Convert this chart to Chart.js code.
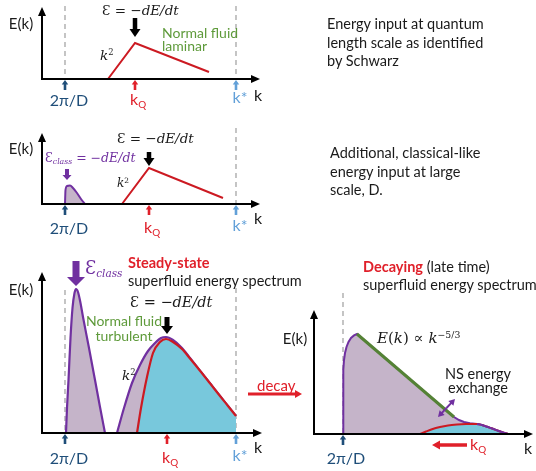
<!DOCTYPE html>
<html>
<head>
<meta charset="utf-8">
<script src="https://cdn.jsdelivr.net/npm/chart.js@4.4.0/dist/chart.umd.min.js"></script>
<style>
  body { margin: 0; background: #fff; }
  #wrap { position: relative; width: 536px; height: 471px; overflow: hidden; }
  #wrap canvas { position: absolute; left: 0; top: 0; }
  .lbl { position: absolute; white-space: nowrap; line-height: 1; font-family: Lato, "Noto Sans", sans-serif; font-size: 14px; color: #1a1a1a; }
  .m { font-family: "DejaVu Serif", serif; font-size: 13.5px; }
  .sb { font-size: 0.62em; vertical-align: -0.3em; }
  .sp { font-size: 0.62em; vertical-align: 0.55em; }
  .tick { font-size: 16px; }
  .green { color: #5e9a3a; font-size: 14px; }
  .purple { color: #7030a0; }
  .red { color: #e0202a; }
  .desc { line-height: 18.5px; font-size: 14.5px; }
</style>
</head>
<body>
<div id="wrap">
  <canvas id="c1" width="536" height="471"></canvas>
  <canvas id="c2" width="536" height="471"></canvas>
  <canvas id="c3" width="536" height="471"></canvas>
  <canvas id="c4" width="536" height="471"></canvas>
</div>
<script>
// units: k along the axis, E up from the axis
const tickNames = ["2π/D", "k<span class='sb'>Q</span>", "k*"];

// top: energy input at kQ only
const p1Ticks = [23, 93, 194];
const p1RedK = [66, 93, 167];
const p1RedE = [0, 36, 7];

// second: extra classical input at 2π/D
const p2Ticks = [23, 107, 194];
const p2RedK = [80, 107, 181];
const p2RedE = [0, 36, 6];
const p2PurpleK = [23, 23.5, 25, 28, 31, 35, 39, 43];
const p2PurpleE = [0, 14, 18, 18.5, 16, 11, 5, 0];

// steady state
const p3Ticks = [23, 125, 194];
const p3Peak1K = [24, 25, 26.5, 28.5, 30.5, 32.5, 34, 36, 38.5, 41, 47, 53, 58, 63];
const p3Peak1E = [0, 25, 53, 95, 125, 140, 144, 141, 130, 116, 85, 53, 26, 0];
const p3Peak2K = [75, 82, 90, 98, 106, 113, 119, 124, 131, 140, 148, 158, 168, 178, 186, 194];
const p3Peak2E = [0, 25, 50, 68, 82, 90, 95, 96, 93, 85, 75, 62.3, 49.7, 37, 27, 17];
const p3RedK = [95, 99, 105, 111, 118, 124, 131, 140, 148, 158, 168, 178, 186, 194];
const p3RedE = [0, 25, 56, 80, 91, 94, 91, 84, 74.5, 62.3, 49.7, 37, 27, 17];

// decaying
const p4Ticks = [29];
const p4PurpleK = [29, 29.3, 30, 31, 32.5, 34.5, 37, 40, 43, 140, 145, 150, 156, 163, 168, 173, 178, 184, 189, 194];
const p4PurpleE = [0, 64, 74, 81, 87, 92, 96, 98.6, 100, 17, 14, 12, 10.8, 10, 9, 7.2, 5.5, 3.3, 1.5, 0];
const p4RedK = [106, 112, 118, 126, 134, 143, 152, 163, 168, 173, 178, 184, 189, 194];
const p4RedE = [0, 2.5, 4.8, 7, 8.5, 9.4, 9.9, 10, 9, 7.2, 5.5, 3.3, 1.5, 0];
const p4TailK = [163, 168, 173, 178, 184, 189, 194];
const p4TailE = [10, 9, 7.2, 5.5, 3.3, 1.5, 0];
const p4SlopeK = [43, 140];
const p4SlopeE = [100, 17];

const RED = "#cc1a22", LABEL_RED = "#e0202a", PURPLE = "#7030a0", LILAC = "#c5b4c9",
      CYAN = "#78c8dc", NAVY = "#1f4e79", SKY = "#62a0d8", GREEN = "#548235", GREY = "#a6a6a6";
const tickColors = [NAVY, LABEL_RED, SKY];

const W = 536, H = 471;
const wrap = document.getElementById("wrap");

function series(ks, es) { return ks.map((k, i) => ({ x: k, y: es[i] })); }

function blockArrow(ctx, x0, y0, x1, y1, shaftW, headW, headL, color) {
  const dx = x1 - x0, dy = y1 - y0, len = Math.hypot(dx, dy);
  const ux = dx / len, uy = dy / len, nx = -uy, ny = ux;
  const bx = x1 - ux * headL, by = y1 - uy * headL;
  ctx.beginPath();
  ctx.moveTo(x0 + nx * shaftW / 2, y0 + ny * shaftW / 2);
  ctx.lineTo(bx + nx * shaftW / 2, by + ny * shaftW / 2);
  ctx.lineTo(bx + nx * headW / 2, by + ny * headW / 2);
  ctx.lineTo(x1, y1);
  ctx.lineTo(bx - nx * headW / 2, by - ny * headW / 2);
  ctx.lineTo(bx - nx * shaftW / 2, by - ny * shaftW / 2);
  ctx.lineTo(x0 - nx * shaftW / 2, y0 - ny * shaftW / 2);
  ctx.closePath();
  ctx.fillStyle = color;
  ctx.fill();
}

function panel(id, origin, datasets, deco) {
  const canvas = document.getElementById(id);
  return new Chart(canvas, {
    type: "line",
    data: { datasets },
    options: {
      responsive: false,
      animation: false,
      events: [],
      layout: { padding: 0 },
      elements: { point: { radius: 0 } },
      scales: {
        x: { type: "linear", display: false, min: -origin[0], max: W - origin[0] },
        y: { type: "linear", display: false, min: origin[1] - H, max: origin[1] }
      },
      plugins: { legend: { display: false }, tooltip: { enabled: false } }
    },
    plugins: [{
      id: "deco",
      beforeDatasetsDraw(chart) { draw(chart, deco.under); },
      afterDatasetsDraw(chart) { draw(chart, deco.over); }
    }]
  });
}

function draw(chart, fn) {
  if (!fn) return;
  const ctx = chart.ctx;
  const X = v => chart.scales.x.getPixelForValue(v);
  const Y = v => chart.scales.y.getPixelForValue(v);
  ctx.save();
  fn(ctx, X, Y);
  ctx.restore();
}

function dashed(ctx, X, Y, k, top) {
  ctx.setLineDash([5, 4]);
  ctx.strokeStyle = GREY;
  ctx.lineWidth = 1.3;
  ctx.beginPath();
  ctx.moveTo(X(k), Y(top));
  ctx.lineTo(X(k), Y(0));
  ctx.stroke();
  ctx.setLineDash([]);
}

function axes(ctx, X, Y, kLen, eLen, ticks, colors) {
  blockArrow(ctx, X(0) - 1, Y(0), X(kLen), Y(0), 2, 8, 9, "#000");
  blockArrow(ctx, X(0), Y(0) + 1, X(0), Y(eLen), 2, 8, 9, "#000");
  ticks.forEach((k, i) => blockArrow(ctx, X(k), Y(-11), X(k), Y(0) + 1, 2.6, 6.5, 4.5, colors[i]));
}

function downArrow(ctx, X, Y, k, from, to, sw, hw, hl, color) {
  blockArrow(ctx, X(k), Y(from), X(k), Y(to), sw, hw, hl, color);
}

function put(chart, k, e, html, cls, anchor, css) {
  const d = document.createElement("div");
  d.className = "lbl " + (cls || "");
  d.innerHTML = html;
  if (css) d.style.cssText = css;
  d.style.left = chart.scales.x.getPixelForValue(k) + "px";
  d.style.top = chart.scales.y.getPixelForValue(e) + "px";
  d.style.transform = anchor === "c" ? "translate(-50%,-50%)" : "translate(0,-50%)";
  wrap.appendChild(d);
  return d;
}

function tickLabels(chart, ys, xs) {
  put(chart, xs[0], ys[0], tickNames[0], "tick", "c", "color:" + NAVY);
  put(chart, xs[1], ys[0], tickNames[1], "tick", "l", "color:" + LABEL_RED);
  put(chart, xs[2], ys[1], tickNames[2], "tick", "c", "color:" + SKY);
}

const EQ = "<span class='m'>Ɛ = −<i>dE/dt</i></span>";
const K2 = "<span class='m'><i>k</i><span class='sp'>2</span></span>";

// ---- panel 1
const c1 = panel("c1", [42, 79], [
  { data: series(p1RedK, p1RedE), borderColor: RED, borderWidth: 2, tension: 0, fill: false }
], {
  under(ctx, X, Y) { dashed(ctx, X, Y, 23, 73); dashed(ctx, X, Y, 194, 73); },
  over(ctx, X, Y) {
    axes(ctx, X, Y, 218, 72, p1Ticks, tickColors);
    downArrow(ctx, X, Y, 93, 61, 42, 4.5, 11, 8, "#000");
  }
});

// ---- panel 2
const c2 = panel("c2", [42, 204], [
  { data: series(p2RedK, p2RedE), borderColor: RED, borderWidth: 2, tension: 0, fill: false, order: 0 },
  { data: series(p2PurpleK, p2PurpleE), borderColor: PURPLE, borderWidth: 2, backgroundColor: LILAC,
    fill: "origin", cubicInterpolationMode: "monotone", order: 1 }
], {
  under(ctx, X, Y) { dashed(ctx, X, Y, 194, 76); },
  over(ctx, X, Y) {
    axes(ctx, X, Y, 218, 71, p2Ticks, tickColors);
    downArrow(ctx, X, Y, 107, 52, 38, 4.5, 11, 8, "#000");
    downArrow(ctx, X, Y, 25, 35, 24, 4, 9, 5, PURPLE);
  }
});

// ---- panel 3
const c3 = panel("c3", [42, 433], [
  { data: series(p3RedK, p3RedE), borderColor: RED, borderWidth: 2.2, backgroundColor: CYAN,
    fill: "origin", cubicInterpolationMode: "monotone", order: 0 },
  { data: series(p3Peak2K, p3Peak2E), borderColor: PURPLE, borderWidth: 2.2, backgroundColor: LILAC,
    fill: "origin", cubicInterpolationMode: "monotone", order: 1 },
  { data: series(p3Peak1K, p3Peak1E), borderColor: PURPLE, borderWidth: 2.2, backgroundColor: LILAC,
    fill: "origin", cubicInterpolationMode: "monotone", order: 2 }
], {
  under(ctx, X, Y) { dashed(ctx, X, Y, 23, 143); dashed(ctx, X, Y, 194, 145); },
  over(ctx, X, Y) {
    axes(ctx, X, Y, 220, 161, p3Ticks, tickColors);
    downArrow(ctx, X, Y, 125, 116, 99, 5, 12, 8, "#000");
    downArrow(ctx, X, Y, 34, 172, 147, 7, 18, 9, PURPLE);
    blockArrow(ctx, X(206), Y(39), X(260), Y(39), 3, 8, 7, LABEL_RED);
  }
});

// ---- panel 4
const c4 = panel("c4", [314, 434], [
  { data: series(p4SlopeK, p4SlopeE), borderColor: GREEN, borderWidth: 3, tension: 0, fill: false, order: 0 },
  { data: series(p4TailK, p4TailE), borderColor: PURPLE, borderWidth: 2, fill: false,
    cubicInterpolationMode: "monotone", order: 1 },
  { data: series(p4RedK, p4RedE), borderColor: RED, borderWidth: 2, backgroundColor: CYAN,
    fill: "origin", cubicInterpolationMode: "monotone", order: 2 },
  { data: series(p4PurpleK, p4PurpleE), borderColor: PURPLE, borderWidth: 2, backgroundColor: LILAC,
    fill: "origin", tension: 0, order: 3 }
], {
  under(ctx, X, Y) { dashed(ctx, X, Y, 29, 141); },
  over(ctx, X, Y) {
    axes(ctx, X, Y, 219, 124, p4Ticks, [NAVY]);
    const mx = X(132.5), my = Y(26);
    blockArrow(ctx, mx, my, X(141), Y(35), 2, 7, 6, PURPLE);
    blockArrow(ctx, mx, my, X(124), Y(17), 2, 7, 6, PURPLE);
    blockArrow(ctx, X(153), Y(-11), X(118), Y(-11), 3.5, 9, 8, LABEL_RED);
  }
});

// ---- text
[c1, c2, c3].forEach((c, i) => {
  put(c, -21, [56, 56, 144][i], "E(k)", "", "c", "font-size:15px");
  put(c, 216, [-16, -14, -14][i], "k", "tick", "c");
});
tickLabels(c1, [-21, -18], [27, 88, 198]);
tickLabels(c2, [-24, -21], [27, 102, 198]);
tickLabels(c3, [-25, -22], [27, 120, 198]);

put(c1, 60, 69, EQ, "", "l");
put(c1, 58, 24, K2, "", "l");
put(c1, 120, 46, "Normal fluid", "green", "l");
put(c1, 120, 33, "laminar", "green", "l");
put(c1, 285, 36, "Energy input at quantum<br>length scale as identified<br>by Schwarz", "desc", "l");

put(c2, 75, 66, EQ, "", "l");
put(c2, 3, 46, "<span class='m' style='font-size:12.5px'>Ɛ<span class='sb'><i>class</i></span> = −<i>dE/dt</i></span>", "purple", "l");
put(c2, 75, 22, "<span class='m' style='font-size:12px'><i>k</i><span class='sp'>2</span></span>", "", "l");
put(c2, 288, 32, "Additional, classical-like<br>energy input at large<br>scale, D.", "desc", "l");

put(c3, 43, 164, "<span class='m'><span style='font-size:18px'>Ɛ</span><span style='font-size:10.5px;vertical-align:-0.3em'><i>class</i></span></span>", "purple", "l");
put(c3, 86, 170, "<b>Steady-state</b>", "red", "l", "font-size:14.5px");
put(c3, 86, 152, "superfluid energy spectrum", "", "l", "font-size:14.5px");
put(c3, 88, 131, "<span class='m' style='font-size:14.5px'>Ɛ = −<i>dE/dt</i></span>", "", "l");
put(c3, 82, 112, "Normal fluid", "green", "c");
put(c3, 82, 97, "turbulent", "green", "c");
put(c3, 80, 58, K2, "", "l");
put(c3, 215, 48, "decay", "red", "l", "font-size:15px");

put(c4, -19, 96, "E(k)", "", "c", "font-size:15px");
put(c4, 214, -14, "k", "tick", "c");
put(c4, 32, -24, tickNames[0], "tick", "c", "color:" + NAVY);
put(c4, 49, 167, "<b class='red'>Decaying</b> (late time)", "", "l", "font-size:14.5px");
put(c4, 49, 149, "superfluid energy spectrum", "", "l", "font-size:14.5px");
put(c4, 63, 96, "<span class='m' style='font-size:15px'><i>E</i>(<i>k</i>) ∝ <i>k</i><span class='sp'>−5/3</span></span>", "", "l");
put(c4, 164, 60, "NS energy", "", "c", "font-size:14.5px");
put(c4, 164, 46, "exchange", "", "c", "font-size:14.5px");
put(c4, 156, -11, tickNames[1], "tick", "l", "color:" + LABEL_RED);
</script>
</body>
</html>
